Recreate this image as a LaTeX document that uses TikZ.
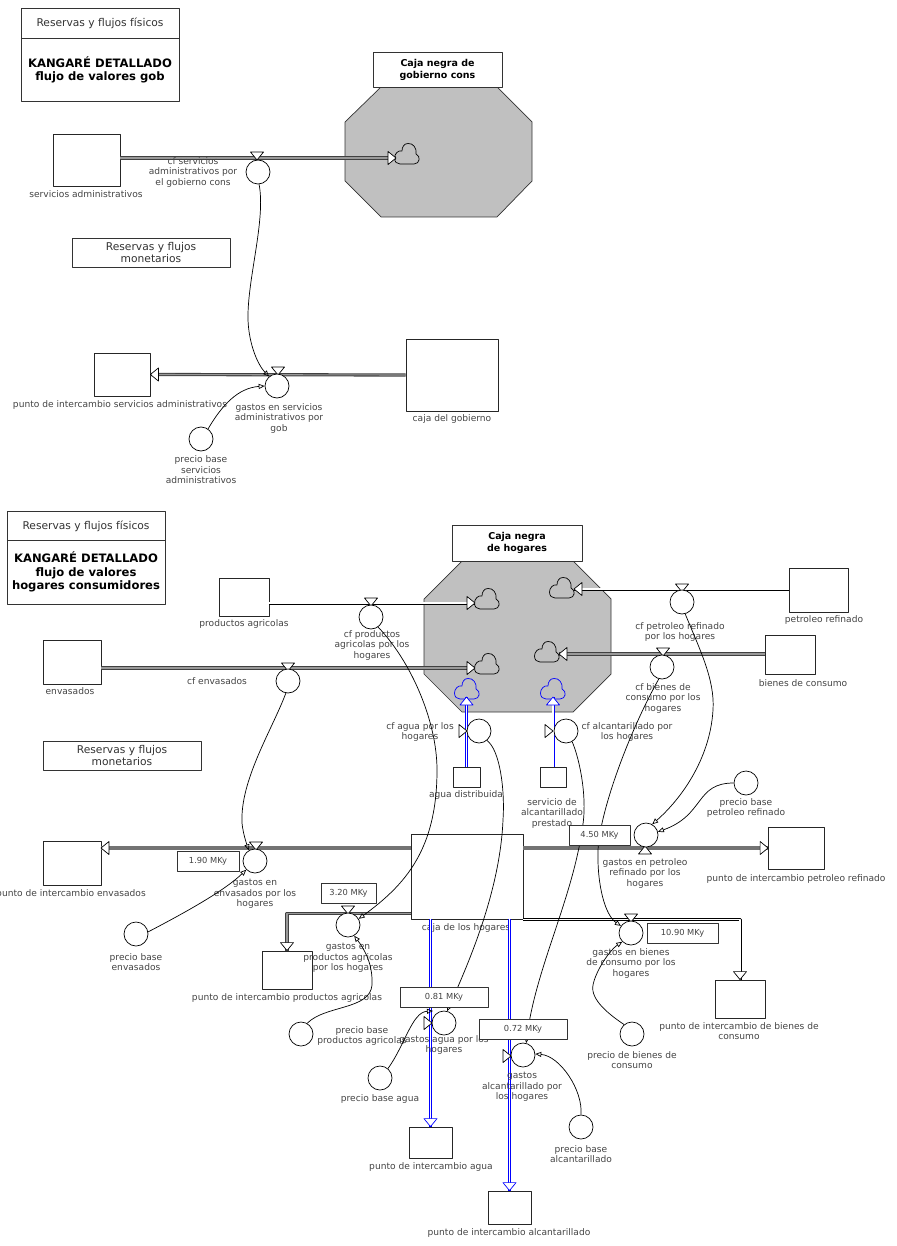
\documentclass[tikz,border=0pt]{standalone}
\usepackage{fontspec}
\setmainfont{DejaVu Sans}
\usetikzlibrary{arrows.meta}
\definecolor{txtgray}{HTML}{444444}
\definecolor{cajagray}{HTML}{C0C0C0}
\tikzset{
	lbl/.style={font=\fontsize{9.1}{10.5}\selectfont,text=txtgray,align=center,inner sep=0},
	titlelbl/.style={font=\fontsize{10.7}{12}\selectfont,text=black!80,align=center,inner sep=0},
	boldlbl/.style={font=\fontsize{11.6}{13.5}\selectfont\bfseries,align=center,inner sep=0},
	capbox/.style={draw=black!80,fill=white,align=center,inner sep=0,font=\fontsize{9.5}{12}\selectfont\bfseries},
	notebox/.style={draw=black!80,fill=white,align=center,inner sep=0,font=\fontsize{10.7}{11.5}\selectfont,text=black!80},
	valbox/.style={draw=black!80,fill=white,inner sep=0,font=\fontsize{8.3}{9}\selectfont,text=txtgray},
	stockbox/.style={draw=black!85,fill=white,line width=.8pt,inner sep=0},
	conv/.style={circle,draw,fill=white,inner sep=0,minimum size=24pt,line width=.7pt},
	pipe/.style={preaction={draw=black,line width=3pt},draw=white,line width=1.3pt},
	pipeg/.style={preaction={draw=black!75,line width=3.2pt},draw=black!40,line width=1.1pt},
	pipebold/.style={draw=black!55,line width=4pt},
	pipeb/.style={preaction={draw=blue,line width=3pt},draw=white,line width=1.2pt},
	link/.style={draw,line width=.7pt,-{Triangle[open,length=6pt,width=5pt]}},
	wedge/.pic={\draw[fill=white,line width=.7pt,pic actions] (-8,-6.5) -- (0,0) -- (-8,6.5) -- cycle;},
	nube/.pic={\draw[line width=.7pt,pic actions] (-7,10) -- (7,10) .. controls (13,10) and (14,2) .. (9,0) .. controls (10,-6) and (6,-11) .. (1,-10.5) .. controls (-3,-10.5) and (-5,-7) .. (-5,-3) .. controls (-9,-4) and (-12.5,0) .. (-12.5,4) .. controls (-12.5,8) and (-10,10) .. (-7,10);}
}
\begin{document}
\begin{tikzpicture}[x=1pt,y=-1pt,line join=round]
	\useasboundingbox (0,0) rectangle (896,1246);
	% gobierno
	\node[notebox,minimum width=158pt,minimum height=93pt] (tgob) at (100,54.5) {};
	\draw[draw=black!80] (tgob.west |- 0,38) -- (tgob.east |- 0,38);
	\node[titlelbl] (tgobf) at (100,23.5) {Reservas y flujos físicos};
	\node[boldlbl] (tgobb) at (100,70) {KANGARÉ DETALLADO\\flujo de valores gob};
	\fill[cajagray,draw=black!80,line width=.7pt] (381,87)--(497,87)--(532,122)--(532,181)--(497,217)--(381,217)--(345,181)--(345,122)--cycle;
	\node[capbox,minimum width=129pt,minimum height=35pt] (cngob) at (437.5,69.5) {Caja negra de\\gobierno cons};
	\pic at (407,154) {nube};
	\node[stockbox,minimum width=67pt,minimum height=52pt] (sa) at (86.5,160) {};
	\node[lbl] (sal) at (86,194) {servicios administrativos};
	\coordinate (tipsa) at (396,158);
	\draw[pipeg] (sa.east |- tipsa) -- (tipsa);
	\pic at (tipsa) {wedge};
	\node[lbl] (cfsal) at (193,172) {cf servicios\\administrativos por\\el gobierno cons};
	\node[conv] (cfsa) at (258,172) {};
	\pic[rotate=-90] at (257,160) {wedge};
	\node[notebox,minimum width=158pt,minimum height=29pt] (mgob) at (151,252.5) {Reservas y flujos\\monetarios};
	\node[stockbox,minimum width=56pt,minimum height=43pt] (psa) at (122,374.5) {};
	\node[lbl] (psal) at (120,405) {punto de intercambio servicios administrativos};
	\node[stockbox,minimum width=92pt,minimum height=72pt] (cg) at (452,375) {};
	\node[lbl] (cgl) at (452,419) {caja del gobierno};
	\draw[pipeg] (cg.west) -- (psa.east);
	\pic[rotate=180] at (psa.east) {wedge};
	\pic[rotate=-90] at (278,375) {wedge};
	\node[conv] (gsa) at (277,386) {};
	\node[lbl] (gsal) at (279,418) {gastos en servicios\\administrativos por\\gob};
	\node[conv] (pbsa) at (201,439) {};
	\node[lbl] (pbsal) at (201,470) {precio base\\servicios\\administrativos};
	\draw[link] (cfsa.-85) .. controls (266,220) and (247,280) .. (248,320) .. controls (249,345) and (258,365) .. (gsa.130);
	\draw[link] (pbsa.55) .. controls (222,405) and (238,388) .. (gsa.180);
	% hogares
	\node[notebox,minimum width=158pt,minimum height=93pt] (thog) at (86,557.5) {};
	\draw[draw=black!80] (thog.west |- 0,540) -- (thog.east |- 0,540);
	\node[titlelbl] (thogf) at (86,526) {Reservas y flujos físicos};
	\node[boldlbl] (thogb) at (86,572) {KANGARÉ DETALLADO\\flujo de valores\\hogares consumidores};
	\fill[cajagray,draw=black!80,line width=.7pt] (462,561)--(573,561)--(611,599)--(611,674)--(573,712)--(462,712)--(424,674)--(424,599)--cycle;
	\node[capbox,minimum width=130pt,minimum height=36pt] (cnhog) at (517,543) {Caja negra\\de hogares};
	\pic at (487,599) {nube};
	\pic at (487,664) {nube};
	\pic at (562,588) {nube};
	\pic at (547,652) {nube};
	\pic[draw=blue] at (467,689) {nube};
	\pic[draw=blue] at (553,689) {nube};
	\node[stockbox,minimum width=50pt,minimum height=38pt] (pa) at (244,597) {};
	\node[lbl] (pal) at (244,624) {productos agricolas};
	\coordinate (tippa) at (475,603);
	\draw[pipe] (pa.east |- tippa) -- (tippa);
	\pic at (tippa) {wedge};
	\pic[rotate=-90] at (371,606) {wedge};
	\node[conv] (cfpa) at (371,617) {};
	\node[lbl] (cfpal) at (372,645) {cf productos\\agricolas por los\\hogares};
	\node[stockbox,minimum width=58pt,minimum height=44pt] (en) at (72,662) {};
	\node[lbl] (enl) at (70,691) {envasados};
	\coordinate (tipen) at (475,668);
	\draw[pipeg] (en.east |- tipen) -- (tipen);
	\pic at (tipen) {wedge};
	\pic[rotate=-90] at (288,671) {wedge};
	\node[conv] (cfen) at (288,681) {};
	\node[lbl] (cfenl) at (217,681) {cf envasados};
	\node[stockbox,minimum width=59pt,minimum height=44pt] (pr) at (818.5,590) {};
	\node[lbl] (prl) at (824,620) {petroleo refinado};
	\coordinate (tippr) at (574,589);
	\draw[pipe] (pr.west |- tippr) -- (tippr);
	\pic[rotate=180] at (tippr) {wedge};
	\pic[rotate=-90] at (682,592) {wedge};
	\node[conv] (cfpr) at (682,602) {};
	\node[lbl] (cfprl) at (680,632) {cf petroleo refinado\\por los hogares};
	\node[stockbox,minimum width=50pt,minimum height=39pt] (bc) at (790,654.5) {};
	\node[lbl] (bcl) at (803,683) {bienes de consumo};
	\coordinate (tipbc) at (559,654);
	\draw[pipeg] (bc.west |- tipbc) -- (tipbc);
	\pic[rotate=180] at (tipbc) {wedge};
	\pic[rotate=-90] at (663,656) {wedge};
	\node[conv] (cfbc) at (662,667) {};
	\node[lbl] (cfbcl) at (663,698) {cf bienes de\\consumo por los\\hogares};
	\node[stockbox,minimum width=27pt,minimum height=20pt] (ad) at (466.5,777) {};
	\node[lbl] (adl) at (466,795) {agua distribuida};
	\coordinate (tipad) at (466.5,697);
	\draw[pipeb] (ad.north) -- (tipad);
	\pic[rotate=90,draw=blue] at (tipad) {wedge};
	\pic at (467,731) {wedge};
	\node[conv] (cfad) at (479,731) {};
	\node[lbl] (cfadl) at (420,732) {cf agua por los\\hogares};
	\node[stockbox,minimum width=26pt,minimum height=20pt] (sv) at (553,777) {};
	\node[lbl] (svl) at (552,813) {servicio de\\alcantarillado\\prestado};
	\coordinate (tipsv) at (553,697);
	\draw[pipeb] (sv.north) -- (tipsv);
	\pic[rotate=90,draw=blue] at (tipsv) {wedge};
	\pic at (553,731) {wedge};
	\node[conv] (cfsv) at (566,731) {};
	\node[lbl] (cfsvl) at (627,732) {cf alcantarillado por\\los hogares};
	\node[notebox,minimum width=158pt,minimum height=29pt] (mhog) at (122,755.5) {Reservas y flujos\\monetarios};
	% caja de los hogares
	\node[stockbox,minimum width=112pt,minimum height=85pt] (ch) at (467,876.5) {};
	\node[lbl] (chl) at (466,928) {caja de los hogares};
	\node[stockbox,minimum width=58pt,minimum height=44pt] (pen) at (72,863) {};
	\node[lbl] (penl) at (71,894) {punto de intercambio envasados};
	\coordinate (tippen) at (101,848);
	\draw[pipebold] (ch.west |- tippen) -- (tippen);
	\pic[rotate=180] at (tippen) {wedge};
	\pic[rotate=-90] at (256,850) {wedge};
	\node[conv] (gen) at (255,861) {};
	\node[lbl] (genl) at (255,894) {gastos en\\envasados por los\\hogares};
	\node[conv] (pben) at (136,934) {};
	\node[lbl] (pbenl) at (136,962) {precio base\\envasados};
	\node[stockbox,minimum width=50pt,minimum height=38pt] (ppa) at (287,970) {};
	\node[lbl] (ppal) at (287,998) {punto de intercambio productos agricolas};
	\draw[pipeg] ([yshift=6pt]ch.south west) -| (ppa.north);
	\pic[rotate=-90] at (ppa.north) {wedge};
	\pic[rotate=-90] at (348,914) {wedge};
	\node[conv] (gpa) at (348,925) {};
	\node[lbl] (gpal) at (348,958) {gastos en\\productos agricolas\\por los hogares};
	\node[conv] (pbpa) at (301,1034) {};
	\node[lbl] (pbpal) at (362,1036) {precio base\\productos agricolas};
	\node[stockbox,minimum width=43pt,minimum height=31pt] (pag) at (430.5,1142.5) {};
	\node[lbl] (pagl) at (431,1167) {punto de intercambio agua};
	\draw[pipeb] (ch.south -| pag.north) -- (pag.north);
	\pic[rotate=-90,draw=blue] at (pag.north) {wedge};
	\pic at (432,1023) {wedge};
	\node[conv] (gag) at (444,1023) {};
	\node[lbl] (gagl) at (444,1045) {gastos agua por los\\hogares};
	\node[conv] (pbag) at (380,1078) {};
	\node[lbl] (pbagl) at (380,1099) {precio base agua};
	\node[stockbox,minimum width=43pt,minimum height=33pt] (pal2) at (509.5,1207.5) {};
	\node[lbl] (pal2l) at (509,1233) {punto de intercambio alcantarillado};
	\draw[pipeb] (ch.south -| pal2.north) -- (pal2.north);
	\pic[rotate=-90,draw=blue] at (pal2.north) {wedge};
	\pic at (511,1056) {wedge};
	\node[conv] (gal) at (523,1055) {};
	\node[lbl] (gall) at (522,1087) {gastos\\alcantarillado por\\los hogares};
	\node[conv] (pbal) at (581,1127) {};
	\node[lbl] (pball) at (581,1154) {precio base\\alcantarillado};
	\node[stockbox,minimum width=56pt,minimum height=42pt] (ppr) at (796.5,848) {};
	\node[lbl] (pprl) at (796,879) {punto de intercambio petroleo refinado};
	\draw[pipebold] (ch.east |- ppr.west) -- (ppr.west);
	\pic at (ppr.west) {wedge};
	\pic[rotate=90] at (645,846) {wedge};
	\node[conv] (gpr) at (646,835) {};
	\node[lbl] (gprl) at (645,873) {gastos en petroleo\\refinado por los\\hogares};
	\node[conv] (pbpr) at (746,783) {};
	\node[lbl] (pbprl) at (746,808) {precio base\\petroleo refinado};
	\node[stockbox,minimum width=50pt,minimum height=38pt] (pbc) at (740,999) {};
	\node[lbl] (pbcl) at (739,1031) {punto de intercambio de bienes de\\consumo};
	\draw[pipe] (ch.south east) -| (pbc.north);
	\pic[rotate=-90] at (pbc.north) {wedge};
	\pic[rotate=-90] at (631,922) {wedge};
	\node[conv] (gbc) at (631,933) {};
	\node[lbl] (gbcl) at (631,963) {gastos en bienes\\de consumo por los\\hogares};
	\node[conv] (pbbc) at (632,1034) {};
	\node[lbl] (pbbcl) at (632,1060) {precio de bienes de\\consumo};
	% enlaces
	\draw[link] (cfen.-100) .. controls (272,730) and (240,780) .. (242,823) .. controls (243,833) and (246,842) .. (gen.120);
	\draw[link] (pben.10) .. controls (190,910) and (225,890) .. (gen.-135);
	\draw[link] (cfpa.-55) .. controls (410,660) and (437,720) .. (437,770) .. controls (437,850) and (405,885) .. (gpa.30);
	\draw[link] (pbpa.60) .. controls (325,1005) and (370,1010) .. (372,985) .. controls (373,965) and (365,950) .. (gpa.-60);
	\draw[link] (cfad.-50) .. controls (500,750) and (505,790) .. (503,820) .. controls (500,890) and (470,960) .. (gag.75);
	\draw[link] (pbag.50) .. controls (405,1045) and (412,1012) .. (433,1011);
	\draw[link] (cfsv.-60) .. controls (580,760) and (588,800) .. (582,830) .. controls (572,900) and (535,970) .. (gal.75);
	\draw[link] (pbal.90) .. controls (583,1090) and (560,1056) .. (gal.5);
	\draw[link] (cfbc.-105) .. controls (630,730) and (600,810) .. (598,850) .. controls (597,885) and (605,915) .. (gbc.145);
	\draw[link] (pbbc.130) .. controls (610,1015) and (590,1000) .. (593,985) .. controls (596,970) and (610,950) .. (gbc.-135);
	\draw[link] (cfpr.-75) .. controls (700,650) and (715,680) .. (713,710) .. controls (710,760) and (680,800) .. (gpr.60);
	\draw[link] (pbpr.180) .. controls (695,783) and (705,815) .. (gpr.15);
	% valores
	\node[valbox,minimum width=62pt,minimum height=20pt] (v1) at (208,861) {1.90 MKy};
	\node[valbox,minimum width=55pt,minimum height=20pt] (v2) at (348.5,893) {3.20 MKy};
	\node[valbox,minimum width=88pt,minimum height=20pt] (v3) at (444,997) {0.81 MKy};
	\node[valbox,minimum width=88pt,minimum height=20pt] (v4) at (523,1029) {0.72 MKy};
	\node[valbox,minimum width=61pt,minimum height=20pt] (v5) at (599.5,835) {4.50 MKy};
	\node[valbox,minimum width=71pt,minimum height=20pt] (v6) at (682.5,933) {10.90 MKy};
\end{tikzpicture}
\end{document}
